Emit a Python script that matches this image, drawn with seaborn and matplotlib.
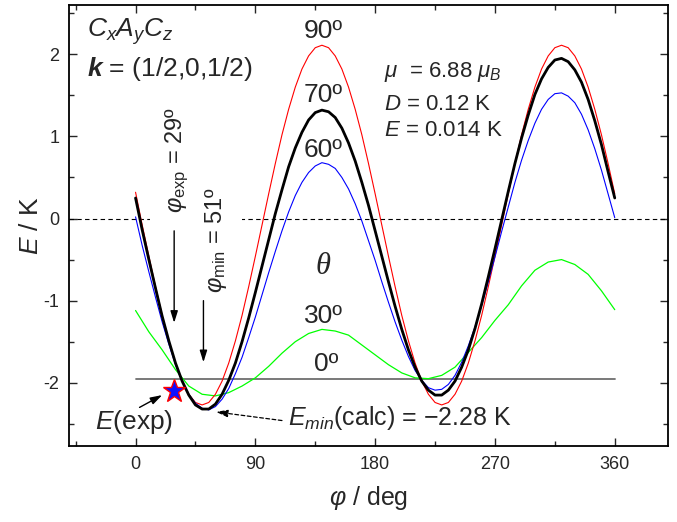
import numpy as np
import pandas as pd
import matplotlib
matplotlib.use("Agg")
import matplotlib.pyplot as plt
import seaborn as sns
from matplotlib.ticker import MultipleLocator

# ---------------- data ----------------
phi = [0, 5, 10, 15, 20, 25, 30, 35, 40, 45, 50, 55, 60, 65, 70, 75, 80, 85, 90, 95, 100,
       105, 110, 115, 120, 125, 130, 135, 140, 145, 150, 155, 160, 165, 170, 175, 180, 185,
       190, 195, 200, 205, 210, 215, 220, 225, 230, 235, 240, 245, 250, 255, 260, 265, 270,
       275, 280, 285, 290, 295, 300, 305, 310, 315, 320, 325, 330, 335, 340, 345, 350, 355, 360]

e_theta90 = [0.32, -0.08, -0.46, -0.83, -1.18, -1.49, -1.76, -1.98, -2.14, -2.24, -2.27, -2.24,
             -2.14, -1.98, -1.76, -1.49, -1.18, -0.83, -0.46, -0.08, 0.30, 0.67, 1.02, 1.33,
             1.60, 1.82, 1.98, 2.08, 2.11, 2.08, 1.98, 1.82, 1.60, 1.33, 1.02, 0.67, 0.30,
             -0.08, -0.46, -0.83, -1.18, -1.49, -1.76, -1.98, -2.14, -2.24, -2.27, -2.24, -2.14,
             -1.98, -1.76, -1.49, -1.18, -0.83, -0.46, -0.08, 0.30, 0.67, 1.02, 1.33, 1.60,
             1.82, 1.98, 2.08, 2.11, 2.08, 1.98, 1.82, 1.60, 1.33, 1.02, 0.67, 0.30]

e_theta70 = [0.25, -0.14, -0.50, -0.85, -1.19, -1.49, -1.76, -1.98, -2.15, -2.27, -2.32, -2.32,
             -2.26, -2.14, -1.97, -1.76, -1.50, -1.21, -0.90, -0.58, -0.26, 0.06, 0.35, 0.63,
             0.86, 1.05, 1.20, 1.29, 1.32, 1.30, 1.23, 1.10, 0.92, 0.70, 0.44, 0.16, -0.15,
             -0.46, -0.77, -1.07, -1.35, -1.60, -1.81, -1.98, -2.09, -2.15, -2.15, -2.09, -1.98,
             -1.81, -1.60, -1.34, -1.04, -0.71, -0.37, -0.02, 0.33, 0.67, 0.98, 1.26, 1.51,
             1.70, 1.84, 1.93, 1.95, 1.91, 1.81, 1.66, 1.45, 1.19, 0.90, 0.57, 0.25]

e_theta60 = [0.02, -0.33, -0.65, -0.96, -1.26, -1.53, -1.78, -1.98, -2.14, -2.25, -2.31, -2.33,
             -2.29, -2.20, -2.07, -1.89, -1.69, -1.45, -1.20, -0.93, -0.66, -0.40, -0.15, 0.08,
             0.28, 0.44, 0.56, 0.64, 0.68, 0.66, 0.61, 0.50, 0.36, 0.18, -0.03, -0.27, -0.51,
             -0.77, -1.02, -1.26, -1.48, -1.68, -1.85, -1.97, -2.06, -2.09, -2.08, -2.02, -1.91,
             -1.75, -1.55, -1.32, -1.06, -0.77, -0.47, -0.16, 0.14, 0.44, 0.71, 0.95, 1.16,
             1.33, 1.45, 1.52, 1.53, 1.49, 1.41, 1.27, 1.08, 0.85, 0.59, 0.30, 0.01]

# the 30 deg curve is sampled coarsely in the reference (visible kinks every 10 deg)
phi_coarse = [0, 10, 20, 30, 40, 50, 60, 70, 80, 90, 100, 110, 120, 130, 140, 150, 160, 170,
              180, 190, 200, 210, 220, 230, 240, 250, 260, 270, 280, 290, 300, 310, 320, 330,
              340, 350, 360]
e_theta30 = [-1.12, -1.38, -1.60, -1.84, -2.04, -2.14, -2.16, -2.12, -2.04, -1.94, -1.80, -1.64,
             -1.50, -1.40, -1.35, -1.37, -1.42, -1.54, -1.66, -1.78, -1.88, -1.94, -1.95, -1.91,
             -1.81, -1.63, -1.45, -1.24, -1.05, -0.82, -0.63, -0.53, -0.50, -0.56, -0.68, -0.88,
             -1.11]
e_theta0 = [-1.95] * len(phi_coarse)

phi_exp, e_exp = 29, -2.10
phi_min = 51

x_ticks = [0, 90, 180, 270, 360]
y_ticks = [-2, -1, 0, 1, 2]

# ---------------- style ----------------
sns.set_style("ticks")
plt.rcParams["font.family"] = ["Liberation Sans", "DejaVu Sans"]
plt.rcParams["axes.unicode_minus"] = False
plt.rcParams["mathtext.fontset"] = "custom"
plt.rcParams["mathtext.rm"] = "Liberation Sans"
plt.rcParams["mathtext.it"] = "Liberation Sans:italic"
plt.rcParams["mathtext.bf"] = "Liberation Sans:bold"
plt.rcParams["mathtext.bfit"] = "Liberation Sans:italic:bold"

fig = plt.figure(figsize=(6.77, 5.22), dpi=100)
ax = fig.add_axes([69 / 677, 76 / 522, 599 / 677, 441 / 522])

df = pd.DataFrame({"phi": phi, "t90": e_theta90, "t70": e_theta70, "t60": e_theta60})
dfc = pd.DataFrame({"phi": phi_coarse, "t30": e_theta30, "t0": e_theta0})

ax.axhline(0, color="black", lw=0.8, ls=(0, (4, 3)), zorder=1)
sns.lineplot(data=dfc, x="phi", y="t0", color="#6e6e6e", lw=1.3, ax=ax, zorder=2)
sns.lineplot(data=dfc, x="phi", y="t30", color="#00ff00", lw=0.9, ax=ax, zorder=2)
sns.lineplot(data=df, x="phi", y="t90", color="#ff0000", lw=0.8, ax=ax, zorder=2)
sns.lineplot(data=df, x="phi", y="t60", color="#0000ff", lw=0.8, ax=ax, zorder=2)
sns.lineplot(data=df, x="phi", y="t70", color="black", lw=2.0, ax=ax, zorder=3)

ax.plot([phi_exp], [e_exp], marker="*", ms=17, mfc="#1010ff", mec="#ff0000", mew=1.0,
        ls="none", zorder=5)

ax.set_xlim(-50, 400)
ax.set_ylim(-2.77, 2.6)
ax.set_xticks(x_ticks)
ax.set_yticks(y_ticks)
ax.xaxis.set_minor_locator(MultipleLocator(45))
ax.yaxis.set_minor_locator(MultipleLocator(0.5))
ax.tick_params(which="both", direction="in", top=True, right=True, labelsize=13, width=1.0)
ax.tick_params(which="major", length=6, pad=7)
ax.tick_params(which="minor", length=3.5)
for s in ax.spines.values():
    s.set_linewidth(1.3)
    s.set_color("black")

ax.set_xlabel(r"$φ$ / deg", fontsize=18, labelpad=8)
ax.set_ylabel(r"$E$ / K", fontsize=19, labelpad=0)

# ---------------- annotations ----------------
fs = 19
ax.text(-36.5, 2.217, r"$C_xA_yC_z$", fontsize=fs, ha="left", va="baseline")
ax.text(-36.5, 1.73, r"$\mathbfit{k}$ = (1/2,0,1/2)", fontsize=fs, ha="left", va="baseline")

ax.text(141, 2.20, "90º", fontsize=fs, ha="center", va="baseline")
ax.text(141, 1.414, "70º", fontsize=fs, ha="center", va="baseline")
ax.text(141, 0.75, "60º", fontsize=fs, ha="center", va="baseline")
ax.text(141, -0.68, "θ", fontsize=22, ha="center", va="baseline",
        family="Liberation Serif", style="italic")
ax.text(141, -1.27, "30º", fontsize=fs, ha="center", va="baseline")
ax.text(143, -1.857, "0º", fontsize=fs, ha="center", va="baseline")

ax.text(187, 1.72, r"$μ$  = 6.88 $μ_B$", fontsize=16, ha="left", va="baseline")
ax.text(187, 1.325, r"$D$ = 0.12 K", fontsize=16, ha="left", va="baseline")
ax.text(187, 1.0, r"$E$ = 0.014 K", fontsize=16, ha="left", va="baseline")

bb = dict(boxstyle="square,pad=0.55", fc="white", ec="none")
ax.text(31, 0.71, r"$φ_{\rm exp}$ = 29º", fontsize=17, rotation=90, ha="center",
        va="center", bbox=bb, zorder=3)
ax.text(60.5, -0.26, r"$φ_{\rm min}$ = 51º", fontsize=17, rotation=90, ha="center",
        va="center", bbox=bb, zorder=3)

arr = dict(arrowstyle="-|>,head_length=0.7,head_width=0.22", color="black", lw=1.0,
           shrinkA=0, shrinkB=0)
ax.annotate("", xy=(phi_exp, -1.27), xytext=(phi_exp, -0.15), arrowprops=arr, zorder=6)
ax.annotate("", xy=(phi_min, -1.75), xytext=(phi_min, -1.0), arrowprops=arr, zorder=6)

ax.text(-0.75, -2.565, r"$E$(exp)", fontsize=fs, ha="center", va="baseline")
ax.annotate("", xy=(20, -2.15), xytext=(3, -2.30), arrowprops=arr, zorder=6)

ax.text(114.5, -2.51, r"$E_{min}$(calc) = −2.28 K", fontsize=18, ha="left", va="baseline")
arr2 = dict(arrowstyle="-|>,head_length=0.7,head_width=0.22", color="black", lw=0.9,
            ls=(0, (3, 2)), shrinkA=0, shrinkB=0)
ax.annotate("", xy=(60.5, -2.355), xytext=(110, -2.46), arrowprops=arr2, zorder=6)

fig.savefig("out.png", dpi=100)
